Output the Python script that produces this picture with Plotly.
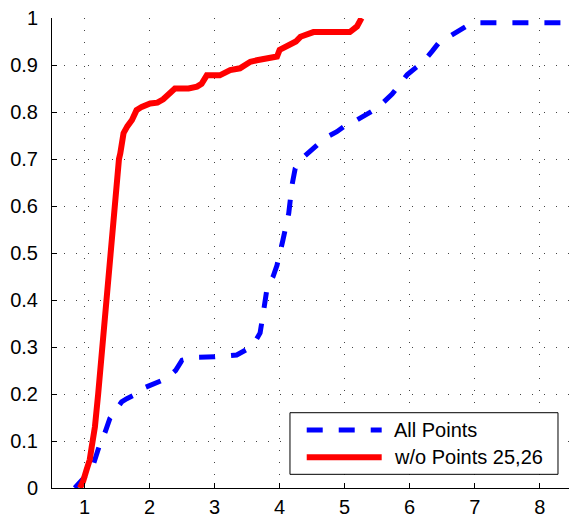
import plotly.graph_objects as go

# Empirical CDF of the error ratio, read as (x, F(x)) pairs
all_x = [0.85, 0.92, 1.0, 1.08, 1.14, 1.24, 1.32, 1.39, 1.5, 1.57, 1.65, 1.8, 1.9, 2.05,
         2.26, 2.4, 2.5, 2.7, 3.0, 3.34, 3.5, 3.62, 3.7, 3.74, 3.81, 3.9, 3.96, 4.05,
         4.14, 4.19, 4.24, 4.32, 4.45, 4.57, 4.7, 4.88, 5.0, 5.19, 5.35, 5.5, 5.73,
         5.85, 5.96, 6.1, 6.21, 6.35, 6.44, 6.6, 6.75, 6.9, 7.0, 8.45]
all_y = [0.0, 0.01, 0.02, 0.035, 0.052, 0.095, 0.12, 0.148, 0.17, 0.183, 0.19, 0.2,
         0.212, 0.22, 0.233, 0.25, 0.272, 0.278, 0.279, 0.283, 0.295, 0.311, 0.33,
         0.364, 0.428, 0.45, 0.474, 0.527, 0.584, 0.644, 0.68, 0.698, 0.715, 0.73,
         0.745, 0.758, 0.77, 0.783, 0.795, 0.808, 0.838, 0.86, 0.879, 0.895, 0.907,
         0.93, 0.946, 0.96, 0.973, 0.985, 0.99, 0.99]

sub_x = [0.93, 0.98, 1.03, 1.08, 1.11, 1.16, 1.21, 1.25, 1.29, 1.33, 1.37, 1.39, 1.45,
         1.47, 1.495, 1.53, 1.55, 1.6, 1.66, 1.73, 1.80, 1.88, 2.01, 2.12, 2.21, 2.3,
         2.39, 2.6, 2.73, 2.8, 2.88, 3.08, 3.15, 3.24, 3.39, 3.47, 3.55, 3.65, 3.96,
         4.0, 4.16, 4.25, 4.32, 4.52, 5.08, 5.19, 5.26]
sub_y = [0.0, 0.015, 0.038, 0.06, 0.087, 0.13, 0.2, 0.265, 0.336, 0.407, 0.442, 0.5,
         0.6, 0.612, 0.655, 0.7, 0.712, 0.755, 0.77, 0.783, 0.804, 0.811, 0.818, 0.82,
         0.827, 0.84, 0.85, 0.85, 0.854, 0.86, 0.878, 0.878, 0.884, 0.889, 0.893, 0.9,
         0.907, 0.91, 0.918, 0.932, 0.942, 0.95, 0.96, 0.97, 0.97, 0.982, 1.0]

series_names = ["All Points", "w/o Points 25,26"]
series_colors = ["#0000FF", "#FF0000"]
series_dash = ["16px,16px", "solid"]
series_width = [5, 6]

x_ticks = [1, 2, 3, 4, 5, 6, 7, 8]
y_ticks = [0, 0.1, 0.2, 0.3, 0.4, 0.5, 0.6, 0.7, 0.8, 0.9, 1]
y_tick_text = ["0", "0.1", "0.2", "0.3", "0.4", "0.5", "0.6", "0.7", "0.8", "0.9", "1"]

FONT = "Liberation Sans, Arial, Helvetica, sans-serif"

fig = go.Figure()
for xs, ys, name, color, dash, width in zip(
        [all_x, sub_x], [all_y, sub_y], series_names, series_colors, series_dash, series_width):
    fig.add_trace(go.Scatter(
        x=xs, y=ys, mode="lines", name=name, showlegend=False,
        line=dict(color=color, width=width, dash=dash),
    ))

axis_font = dict(family=FONT, size=20, color="black")
common = dict(
    showline=True, linecolor="black", linewidth=1,
    ticks="inside", ticklen=5, tickcolor="black", tickwidth=1,
    showgrid=True, gridcolor="#444444", gridwidth=1, griddash="1px,11px",
    zeroline=False, mirror=False, tickfont=axis_font, automargin=False,
)
fig.update_xaxes(range=[0.5, 8.45], tickvals=x_ticks, ticklabelstandoff=1, **common)
fig.update_yaxes(range=[0, 1], tickvals=y_ticks, ticktext=y_tick_text,
                 ticklabelstandoff=9, **common)

# Boxed legend in the lower right of the axes (paper coords of the plot area)
box_x0, box_x1, box_y0, box_y1 = 0.4603, 0.9787, 0.0291, 0.1602
sample_x0, sample_x1, text_x = 0.4927, 0.6377, 0.6570
row_y = [0.1234, 0.0653]

fig.add_shape(type="rect", xref="paper", yref="paper",
              x0=box_x0, x1=box_x1, y0=box_y0, y1=box_y1,
              line=dict(color="black", width=1), fillcolor="white", layer="above")
for name, color, dash, width, ry in zip(series_names, series_colors, series_dash,
                                        series_width, row_y):
    fig.add_shape(type="line", xref="paper", yref="paper",
                  x0=sample_x0, x1=sample_x1, y0=ry, y1=ry,
                  line=dict(color=color, width=width, dash=dash), layer="above")
    fig.add_annotation(x=text_x, y=ry, xref="paper", yref="paper", text=name,
                       showarrow=False, xanchor="left", yanchor="middle",
                       font=dict(family=FONT, size=20, color="black"))

fig.update_layout(
    width=569, height=519,
    margin=dict(l=52, r=0, t=18, b=31),
    plot_bgcolor="white", paper_bgcolor="white",
    showlegend=False,
)

fig.write_html("out.html")
